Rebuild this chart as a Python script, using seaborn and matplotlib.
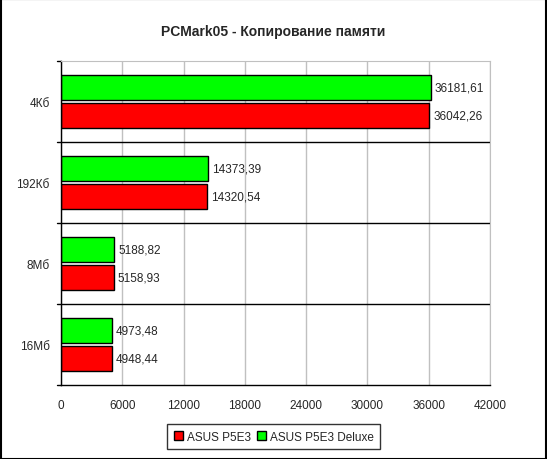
import matplotlib
matplotlib.use("Agg")
import matplotlib.pyplot as plt
import numpy as np
import pandas as pd
import seaborn as sns
from matplotlib.patches import Patch

# data
categories = ["4Кб", "192Кб", "8Мб", "16Мб"]
p5e3 = [36042.26, 14320.54, 5158.93, 4948.44]
p5e3_deluxe = [36181.61, 14373.39, 5188.82, 4973.48]
series = ["ASUS P5E3 Deluxe", "ASUS P5E3"]
colors = {"ASUS P5E3 Deluxe": "#00ff00", "ASUS P5E3": "#ff0000"}
xticks = [0, 6000, 12000, 18000, 24000, 30000, 36000, 42000]

df = pd.DataFrame({
    "cat": categories * 2,
    "value": p5e3_deluxe + p5e3,
    "board": [series[0]] * 4 + [series[1]] * 4,
})

sns.set_style("white")
plt.rcParams["font.family"] = ["Liberation Sans", "DejaVu Sans"]

fig = plt.figure(figsize=(5.47, 4.60), dpi=100)
ax = fig.add_axes([0.1115, 0.1609, 0.7843, 0.7043])

sns.barplot(data=df, x="value", y="cat", hue="board", hue_order=series,
            order=categories, palette=colors, width=0.70, gap=0.1,
            saturation=1, edgecolor="black", linewidth=1, legend=False, ax=ax)

ax.set_xlim(0, 42000)
ax.set_ylim(3.5, -0.5)
ax.set_xticks(xticks)
ax.set_xticklabels([str(t) for t in xticks], fontsize=8.5)
ax.set_xlabel("")
ax.set_ylabel("")
ax.tick_params(axis="y", length=0, labelsize=8.5, pad=8)
ax.tick_params(axis="x", length=4, direction="inout", pad=8, color="black")
ax.xaxis.grid(True, color="#c0c0c0", linewidth=1)
ax.set_axisbelow(True)

# category separators
for b in np.arange(0.5, len(categories) - 0.5, 1):
    ax.axhline(b, color="black", linewidth=1, zorder=1)
for b in np.arange(-0.5, len(categories) + 0.5, 1):
    ax.plot([-0.01, 0], [b, b], transform=ax.get_yaxis_transform(),
            color="black", linewidth=1, clip_on=False)

for s in ["top", "right"]:
    ax.spines[s].set_color("#c0c0c0")
for s in ["left", "bottom"]:
    ax.spines[s].set_color("black")
    ax.spines[s].set_linewidth(1)

for cont in ax.containers:
    labels = [f"{v:.2f}".replace(".", ",") for v in cont.datavalues]
    ax.bar_label(cont, labels=labels, padding=3, fontsize=8.5)

fig.suptitle("PCMark05 - Копирование памяти", y=0.945, fontsize=10,
             fontweight="bold")

handles = [Patch(facecolor=colors["ASUS P5E3"], edgecolor="black", label="ASUS P5E3"),
           Patch(facecolor=colors["ASUS P5E3 Deluxe"], edgecolor="black",
                 label="ASUS P5E3 Deluxe")]
fig.legend(handles=handles, loc="center", bbox_to_anchor=(0.5, 0.048), ncol=2,
           fontsize=8.5, frameon=True, fancybox=False, edgecolor="black",
           handlelength=0.8, handleheight=0.8, handletextpad=0.3,
           columnspacing=0.5, borderpad=0.55)
fig.legends[0].get_frame().set_linewidth(1)

fig.patches.append(plt.Rectangle((0.001, 0.001), 0.998, 0.998, transform=fig.transFigure,
                                 fill=False, edgecolor="black", linewidth=1.5))

fig.savefig("out.png", dpi=100)
